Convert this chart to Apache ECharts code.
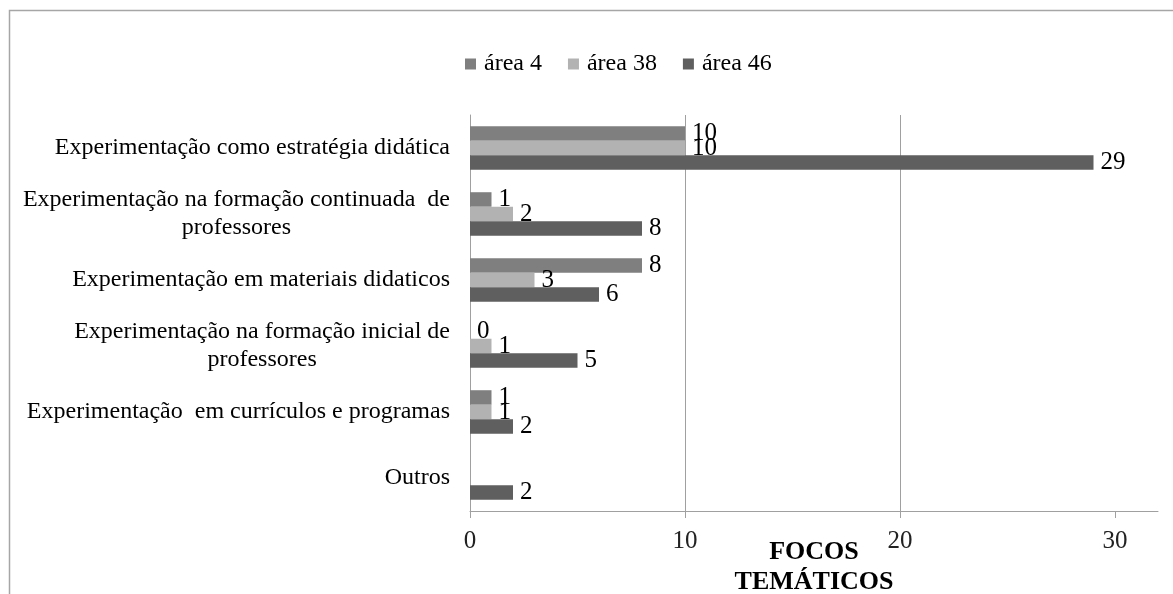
<!DOCTYPE html>
<html><head><meta charset="utf-8">
<script src="https://cdn.jsdelivr.net/npm/echarts@6/dist/echarts.min.js"></script>
<style>html,body{margin:0;padding:0;background:#fff}#c{width:1173px;height:594px}</style>
</head><body><div id="c"></div>
<script>
const categories = [
  'Experimentação como estratégia didática',
  'Experimentação na formação continuada  de\nprofessores',
  'Experimentação em materiais didaticos',
  'Experimentação na formação inicial de\nprofessores',
  'Experimentação  em currículos e programas',
  'Outros'
];
const seriesNames = ['área 4', 'área 38', 'área 46'];
const area4 = [10, 1, 8, 0, 1, null];
const area38 = [10, 2, 3, 1, 1, null];
const area46 = [29, 8, 6, 5, 2, 2];
const xTicks = [0, 10, 20, 30];
const colors = ['#7f7f7f', '#b2b2b2', '#5f5f5f'];

const serif = "'Liberation Serif', 'Times New Roman', serif";
const chart = echarts.init(document.getElementById('c'));
function mk(name, data, color) {
  return {
    name, type: 'bar', data,
    itemStyle: { color },
    barGap: '0%', barCategoryGap: '34%',
    label: { show: true, position: 'right', distance: 7, color: '#000', fontFamily: serif, fontSize: 25 }
  };
}
chart.setOption({
  animation: false,
  color: colors,
  graphic: [{ type: 'rect', shape: { x: 9.5, y: 10.5, width: 1400, height: 800 }, style: { fill: 'none', stroke: '#a6a6a6', lineWidth: 1.5 }, z: -1 }],
  legend: {
    left: 460, top: 47, itemWidth: 11, itemHeight: 11, itemGap: 26, icon: 'rect',
    textStyle: { fontFamily: serif, fontSize: 24, color: '#000', padding: [0, 0, 0, 3] },
    data: seriesNames
  },
  grid: { left: 470, right: 15, top: 115, bottom: 83, containLabel: false, outerBoundsMode: 'none' },
  xAxis: {
    type: 'value', min: 0, max: 32, interval: 10,
    name: 'FOCOS\nTEMÁTICOS', nameLocation: 'middle', nameGap: 26, nameMoveOverlap: false,
    nameTextStyle: { fontFamily: serif, fontWeight: 'bold', fontSize: 26, lineHeight: 30, color: '#000' },
    axisLine: { show: true, lineStyle: { color: '#a0a0a0' } },
    axisTick: { show: true, length: 7, customValues: xTicks, lineStyle: { color: '#a0a0a0' } },
    axisLabel: { customValues: xTicks, margin: 18, fontFamily: serif, fontSize: 25, color: '#222',
      formatter: v => (v % 10 === 0 ? String(v) : '') },
    splitLine: { show: true, showMaxLine: false, lineStyle: { color: '#a0a0a0' } }
  },
  yAxis: {
    type: 'category', inverse: true, data: categories,
    axisLine: { show: true, lineStyle: { color: '#a0a0a0' } },
    axisTick: { show: false },
    axisLabel: {
      margin: 20, fontFamily: serif, fontSize: 24, color: '#000', lineHeight: 28,
      formatter: v => v.split('\n').map(s => '{c|' + s + '}').join('\n'),
      rich: { c: { align: 'center', fontFamily: serif, fontSize: 24, lineHeight: 28, color: '#000' } }
    }
  },
  series: [mk(seriesNames[0], area4, colors[0]), mk(seriesNames[1], area38, colors[1]), mk(seriesNames[2], area46, colors[2])]
});
</script></body></html>
